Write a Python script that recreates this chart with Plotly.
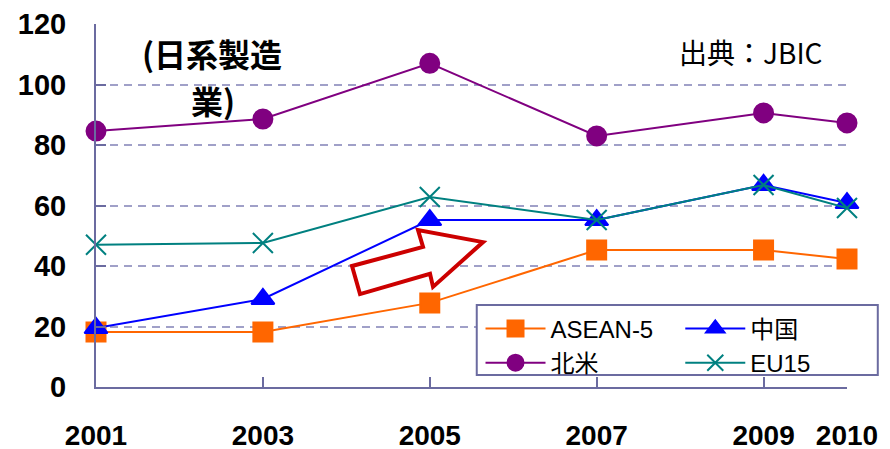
import plotly.graph_objects as go

# 年次
years = [2001, 2003, 2005, 2007, 2009, 2010]

# 各地域の値
asean5 = [18.2, 18.2, 27.8, 45.3, 45.3, 42.3]
china = [19.5, 29.1, 55.2, 55.2, 66.8, 60.8]
north_america = [84.6, 88.6, 107.0, 83.0, 90.6, 87.3]
eu15 = [47.0, 47.6, 62.8, 55.2, 66.8, 59.2]

y_ticks = [0, 20, 40, 60, 80, 100, 120]

AXIS_COLOR = '#6B6BA0'
GRID_COLOR = '#A0A0C8'

fig = go.Figure()

# 系列（凡例は2列: 左列 legend, 右列 legend2）
series = [
    ('ASEAN-5', asean5, '#FF6600', 'square', 19, 'legend'),
    ('中国', china, '#0000FF', 'triangle-up', 20, 'legend2'),
    ('北米', north_america, '#800080', 'circle', 19, 'legend'),
    ('EU15', eu15, '#008080', 'x-thin-open', 20, 'legend2'),
]
for name, vals, color, symbol, size, leg in series:
    fig.add_trace(go.Scatter(
        x=years, y=vals, name=name, mode='lines+markers',
        line=dict(color=color, width=2),
        marker=dict(symbol=symbol, size=size, color=color,
                    line=dict(color=color, width=2)),
        cliponaxis=False, legend=leg
    ))

# 赤い矢印（白抜き）
arrow_pts = [(2004.068, 40.0), (2004.164, 30.7), (2005.003, 37.4), (2005.039, 33.1),
             (2005.638, 47.9), (2004.859, 51.9), (2004.919, 46.3)]
path = 'M ' + ' L '.join(f'{x},{y}' for x, y in arrow_pts) + ' Z'
fig.add_shape(type='path', path=path, xref='x', yref='y',
              line=dict(color='#CC0000', width=4), fillcolor='white', layer='above')

# 凡例の枠
fig.add_shape(type='rect', xref='paper', yref='paper',
              x0=0.507, x1=1.041, y0=0.033, y1=0.226,
              line=dict(color=AXIS_COLOR, width=2), fillcolor='white', layer='above')

# 注記
note_font = dict(family='Noto Sans CJK JP', size=32, color='black')
fig.add_annotation(text='<b>(日系製造</b>', x=0.1545, y=0.920, xref='paper', yref='paper',
                   showarrow=False, xanchor='center', yanchor='middle', font=note_font)
fig.add_annotation(text='<b>業)</b>', x=0.156, y=0.791, xref='paper', yref='paper',
                   showarrow=False, xanchor='center', yanchor='middle', font=note_font)
fig.add_annotation(text='出典：JBIC', x=0.871, y=0.923, xref='paper', yref='paper',
                   showarrow=False, xanchor='center', yanchor='middle',
                   font=dict(family='Noto Sans CJK JP', size=28, color='black'))

fig.update_xaxes(
    range=[2001, 2010], tickvals=years, ticktext=[str(y) for y in years],
    showgrid=False, zeroline=False, automargin=False,
    showline=True, linecolor=AXIS_COLOR, linewidth=2,
    ticks='inside', ticklen=10, tickwidth=2, tickcolor=AXIS_COLOR,
    ticklabelstandoff=22,
    tickfont=dict(family='Liberation Sans', size=28, color='black', weight='bold')
)
fig.update_yaxes(
    range=[0, 120], tickvals=y_ticks,
    showgrid=True, gridcolor=GRID_COLOR, gridwidth=1.5, griddash='8px,6px',
    zeroline=False, automargin=False,
    showline=True, linecolor=AXIS_COLOR, linewidth=2,
    ticks='inside', ticklen=10, tickwidth=2, tickcolor=AXIS_COLOR,
    ticklabelstandoff=22,
    tickfont=dict(family='Liberation Sans', size=29, color='black', weight='bold')
)

legend_style = dict(
    orientation='v', yanchor='top', y=0.222,
    bgcolor='rgba(0,0,0,0)', borderwidth=0, itemwidth=60,
    font=dict(family='Liberation Sans, Noto Sans CJK JP', size=24, color='black'),
    tracegroupgap=0
)

# ページ本体の既定余白 (8px) を差し引いた余白
fig.update_layout(
    width=890, height=449,
    margin=dict(l=88, r=51, t=16, b=70),
    paper_bgcolor='white', plot_bgcolor='white',
    showlegend=True,
    legend=dict(legend_style, x=0.512, xanchor='left'),
    legend2=dict(legend_style, x=0.778, xanchor='left'),
)

fig.write_html("out.html")
